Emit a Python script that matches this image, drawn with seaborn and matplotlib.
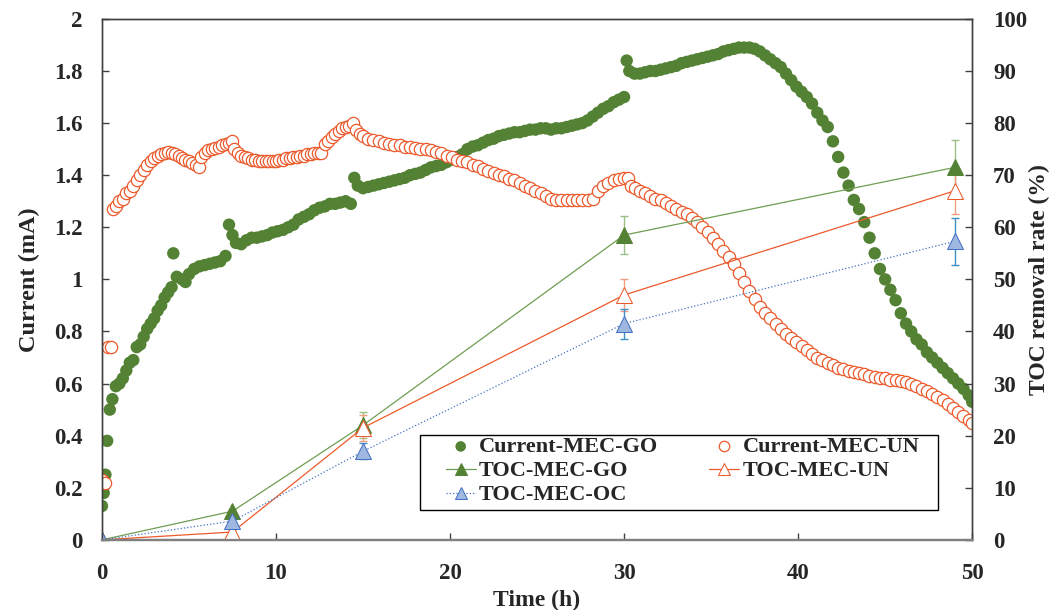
import matplotlib
matplotlib.use("Agg")
import matplotlib.pyplot as plt
from matplotlib.patches import Rectangle
import seaborn as sns
import pandas as pd

# Current of MEC-GO (mA) vs time (h)
go_time = [0.0, 0.1, 0.2, 0.3, 0.45, 0.6, 0.8, 1.0, 1.2, 1.4, 1.6, 1.8, 2.0, 2.2, 2.4, 2.6, 2.8, 3.0,
           3.2, 3.4, 3.6, 3.8, 4.0, 4.1, 4.3, 4.6, 4.8, 5.0, 5.3, 5.6, 5.9, 6.2, 6.5, 6.8, 7.1, 7.3,
           7.5, 7.7, 8.0, 8.3, 8.6, 8.9, 9.2, 9.5, 9.8, 10.1, 10.4, 10.7, 11.0, 11.3, 11.6, 11.9,
           12.2, 12.5, 12.8, 13.1, 13.4, 13.7, 14.0, 14.3, 14.5, 14.7, 15.0, 15.3, 15.6, 15.9, 16.2,
           16.5, 16.8, 17.1, 17.4, 17.7, 18.0, 18.3, 18.6, 18.9, 19.2, 19.5, 19.8, 20.1, 20.4, 20.7,
           21.0, 21.3, 21.6, 21.9, 22.2, 22.5, 22.8, 23.1, 23.4, 23.7, 24.0, 24.3, 24.6, 24.9, 25.2,
           25.5, 25.8, 26.1, 26.4, 26.7, 27.0, 27.3, 27.6, 27.9, 28.2, 28.5, 28.8, 29.1, 29.4, 29.7,
           30.0, 30.15, 30.3, 30.6, 30.9, 31.2, 31.5, 31.8, 32.1, 32.4, 32.7, 33.0, 33.3, 33.6, 33.9,
           34.2, 34.5, 34.8, 35.1, 35.4, 35.7, 36.0, 36.3, 36.6, 36.9, 37.2, 37.5, 37.8, 38.1, 38.4,
           38.7, 39.0, 39.3, 39.6, 39.9, 40.2, 40.5, 40.8, 41.1, 41.4, 41.7, 42.0, 42.3, 42.6, 42.9,
           43.2, 43.5, 43.8, 44.1, 44.4, 44.7, 45.0, 45.3, 45.6, 45.9, 46.2, 46.5, 46.8, 47.1, 47.4,
           47.7, 48.0, 48.3, 48.6, 48.9, 49.2, 49.5, 49.8, 50.0]
go_current = [0.13, 0.18, 0.25, 0.38, 0.50, 0.54, 0.59, 0.60, 0.62, 0.65, 0.68, 0.69, 0.74, 0.75, 0.78,
              0.81, 0.83, 0.85, 0.88, 0.90, 0.93, 0.95, 0.97, 1.10, 1.01, 1.00, 0.99, 1.02, 1.04, 1.05,
              1.055, 1.06, 1.065, 1.07, 1.09, 1.21, 1.17, 1.14, 1.135, 1.15, 1.16, 1.16, 1.165, 1.17,
              1.18, 1.185, 1.19, 1.20, 1.21, 1.23, 1.24, 1.25, 1.265, 1.275, 1.28, 1.29, 1.29, 1.295,
              1.30, 1.29, 1.39, 1.36, 1.35, 1.355, 1.36, 1.365, 1.37, 1.375, 1.38, 1.385, 1.39, 1.40,
              1.405, 1.41, 1.42, 1.43, 1.435, 1.44, 1.45, 1.46, 1.47, 1.48, 1.50, 1.51, 1.515, 1.525,
              1.535, 1.54, 1.55, 1.555, 1.56, 1.565, 1.565, 1.57, 1.575, 1.575, 1.58, 1.58, 1.575, 1.58,
              1.58, 1.585, 1.59, 1.595, 1.60, 1.61, 1.625, 1.64, 1.655, 1.665, 1.68, 1.69, 1.70, 1.84,
              1.80, 1.79, 1.79, 1.795, 1.80, 1.80, 1.805, 1.81, 1.815, 1.82, 1.83, 1.835, 1.84, 1.845,
              1.85, 1.855, 1.86, 1.865, 1.875, 1.88, 1.885, 1.89, 1.89, 1.89, 1.885, 1.875, 1.86, 1.845,
              1.83, 1.815, 1.79, 1.765, 1.74, 1.72, 1.70, 1.675, 1.64, 1.61, 1.585, 1.53, 1.47, 1.41,
              1.36, 1.305, 1.27, 1.22, 1.16, 1.10, 1.04, 1.00, 0.96, 0.92, 0.87, 0.83, 0.80, 0.77, 0.75,
              0.72, 0.70, 0.68, 0.66, 0.64, 0.62, 0.60, 0.58, 0.555, 0.53]

# Current of MEC-UN (mA) vs time (h)
un_time = [0.0, 0.15, 0.35, 0.5, 0.65, 0.8, 1.0, 1.2, 1.4, 1.6, 1.8, 2.0, 2.2, 2.4, 2.6, 2.8, 3.0, 3.2,
           3.4, 3.6, 3.8, 4.0, 4.2, 4.4, 4.6, 4.8, 5.0, 5.2, 5.4, 5.55, 5.7, 5.9, 6.1, 6.3, 6.5, 6.7,
           6.9, 7.1, 7.3, 7.45, 7.6, 7.8, 8.0, 8.2, 8.4, 8.6, 8.8, 9.0, 9.2, 9.4, 9.6, 9.8, 10.0, 10.2,
           10.4, 10.6, 10.8, 11.0, 11.2, 11.4, 11.6, 11.8, 12.0, 12.2, 12.4, 12.6, 12.8, 13.0, 13.2,
           13.4, 13.6, 13.8, 14.0, 14.2, 14.4, 14.6, 14.8, 15.0, 15.3, 15.6, 15.9, 16.2, 16.5, 16.8,
           17.1, 17.4, 17.7, 18.0, 18.3, 18.6, 18.9, 19.2, 19.5, 19.8, 20.1, 20.4, 20.7, 21.0, 21.3,
           21.6, 21.9, 22.2, 22.5, 22.8, 23.1, 23.4, 23.7, 24.0, 24.3, 24.6, 24.9, 25.2, 25.5, 25.8,
           26.1, 26.4, 26.7, 27.0, 27.3, 27.6, 27.9, 28.2, 28.5, 28.8, 29.1, 29.4, 29.7, 30.0, 30.2,
           30.4, 30.6, 30.9, 31.2, 31.5, 31.8, 32.1, 32.4, 32.7, 33.0, 33.3, 33.6, 33.9, 34.2, 34.5,
           34.8, 35.1, 35.4, 35.7, 36.0, 36.3, 36.6, 36.9, 37.2, 37.5, 37.8, 38.1, 38.4, 38.7, 39.0,
           39.3, 39.6, 39.9, 40.2, 40.5, 40.8, 41.1, 41.4, 41.7, 42.0, 42.3, 42.6, 42.9, 43.2, 43.5,
           43.8, 44.1, 44.4, 44.7, 45.0, 45.3, 45.6, 45.9, 46.2, 46.5, 46.8, 47.1, 47.4, 47.7, 48.0,
           48.3, 48.6, 48.9, 49.2, 49.5, 49.8, 50.0]
un_current = [0.23, 0.22, 0.74, 0.74, 1.27, 1.28, 1.30, 1.31, 1.33, 1.34, 1.36, 1.38, 1.40, 1.42, 1.44,
              1.455, 1.465, 1.475, 1.48, 1.485, 1.49, 1.485, 1.48, 1.475, 1.465, 1.46, 1.455, 1.445,
              1.44, 1.43, 1.47, 1.485, 1.495, 1.50, 1.505, 1.51, 1.515, 1.52, 1.525, 1.53, 1.50, 1.485,
              1.475, 1.47, 1.465, 1.46, 1.46, 1.455, 1.455, 1.455, 1.455, 1.455, 1.455, 1.46, 1.46,
              1.465, 1.465, 1.47, 1.47, 1.475, 1.475, 1.48, 1.48, 1.485, 1.485, 1.485, 1.52, 1.53,
              1.545, 1.56, 1.57, 1.58, 1.585, 1.59, 1.60, 1.575, 1.56, 1.55, 1.54, 1.535, 1.53, 1.525,
              1.52, 1.515, 1.515, 1.51, 1.51, 1.505, 1.50, 1.50, 1.495, 1.49, 1.485, 1.475, 1.47, 1.46,
              1.455, 1.45, 1.44, 1.435, 1.425, 1.415, 1.41, 1.40, 1.395, 1.385, 1.38, 1.37, 1.36, 1.35,
              1.34, 1.33, 1.32, 1.31, 1.305, 1.305, 1.305, 1.305, 1.305, 1.305, 1.305, 1.31, 1.34,
              1.36, 1.37, 1.38, 1.385, 1.39, 1.39, 1.36, 1.35, 1.34, 1.33, 1.32, 1.31, 1.305, 1.295,
              1.28, 1.27, 1.26, 1.25, 1.235, 1.22, 1.20, 1.18, 1.16, 1.135, 1.11, 1.085, 1.06, 1.025,
              0.99, 0.955, 0.925, 0.895, 0.87, 0.85, 0.83, 0.81, 0.79, 0.775, 0.76, 0.745, 0.73, 0.715,
              0.70, 0.69, 0.68, 0.67, 0.66, 0.655, 0.65, 0.645, 0.64, 0.635, 0.63, 0.625, 0.62, 0.62,
              0.615, 0.615, 0.61, 0.605, 0.60, 0.59, 0.58, 0.57, 0.56, 0.55, 0.535, 0.52, 0.505, 0.49,
              0.475, 0.46, 0.45]

# TOC removal rate (%)
toc_time = [0, 7.5, 15, 30, 49]
toc_go = [0, 5.5, 22, 58.5, 71.5]
toc_go_err = [0, 0.5, 2.5, 3.6, 5.3]
toc_un = [0, 1.5, 21.5, 47, 67]
toc_un_err = [0, 0.3, 2.5, 3.0, 4.4]
toc_oc = [0, 3.6, 17, 41.5, 57.3]
toc_oc_err = [0, 0.4, 1.5, 2.9, 4.5]

df_go = pd.DataFrame({"time": go_time, "current": go_current})
df_un = pd.DataFrame({"time": un_time, "current": un_current})
df_toc = pd.DataFrame({"time": toc_time, "GO": toc_go, "UN": toc_un, "OC": toc_oc})

sns.set_style("ticks")
plt.rcParams["font.family"] = ["Liberation Serif", "DejaVu Serif"]
plt.rcParams["font.weight"] = "bold"
plt.rcParams["axes.labelweight"] = "bold"

green = "#548235"
orange = "#EC5A2C"
blue = "#4472C4"

fig = plt.figure(figsize=(10.51, 6.10), dpi=100)
ax = fig.add_axes([0.097, 0.115, 0.828, 0.854])
ax2 = ax.twinx()

# Current curves
sns.scatterplot(data=df_go, x="time", y="current", ax=ax, color=green, s=80,
                edgecolor="none", label="Current-MEC-GO", legend=False)
sns.scatterplot(data=df_un, x="time", y="current", ax=ax, facecolor="white", s=78,
                edgecolor=orange, linewidth=0.9, label="Current-MEC-UN", legend=False)

# TOC removal lines
ax2.errorbar(toc_time, toc_go, yerr=toc_go_err, fmt="none", ecolor="#9DBF86", capsize=3, lw=1)
ax2.errorbar(toc_time, toc_un, yerr=toc_un_err, fmt="none", ecolor="#F0A080", capsize=3, lw=1)
ax2.errorbar(toc_time, toc_oc, yerr=toc_oc_err, fmt="none", ecolor="#3F8FC8", capsize=3, lw=1)
sns.lineplot(data=df_toc, x="time", y="GO", ax=ax2, color="#6E9E52", lw=0.9, marker="^",
             markersize=11, markerfacecolor=green, markeredgecolor=green, label="TOC-MEC-GO")
sns.lineplot(data=df_toc, x="time", y="UN", ax=ax2, color=orange, lw=0.9, marker="^",
             markersize=11, markerfacecolor="white", markeredgecolor=orange, label="TOC-MEC-UN")
sns.lineplot(data=df_toc, x="time", y="OC", ax=ax2, color=blue, lw=0.9, ls=":", marker="^",
             markersize=11, markerfacecolor="#9FB8E0", markeredgecolor=blue, label="TOC-MEC-OC")

ax.set_xlim(0, 50)
ax.set_ylim(0, 2)
ax2.set_ylim(0, 100)
ax.set_xticks([0, 10, 20, 30, 40, 50])
ax.set_yticks([0, 0.2, 0.4, 0.6, 0.8, 1, 1.2, 1.4, 1.6, 1.8, 2])
ax.set_yticklabels(["0", "0.2", "0.4", "0.6", "0.8", "1", "1.2", "1.4", "1.6", "1.8", "2"])
ax2.set_yticks(range(0, 101, 10))

ax.set_xlabel("Time (h)", fontsize=17, labelpad=4)
ax.set_ylabel("Current (mA)", fontsize=17.5, labelpad=10)
ax2.set_ylabel("TOC removal rate (%)", fontsize=17)
ax2.yaxis.set_label_coords(1.0655, 0.5)

for a in (ax, ax2):
    a.tick_params(direction="in", length=5, width=1, labelsize=16.5, color="#404040")
    for sp in a.spines.values():
        sp.set_color("#404040")
        sp.set_linewidth(1)
    a.spines["bottom"].set_color("#808080")
    a.spines["bottom"].set_linewidth(1.6)
ax.tick_params(axis="y", pad=14)
ax2.tick_params(axis="y", pad=15)
ax.tick_params(axis="x", pad=17)

if ax2.get_legend():
    ax2.get_legend().remove()
h1, l1 = ax.get_legend_handles_labels()
h2, l2 = ax2.get_legend_handles_labels()
hd = dict(zip(l1 + l2, h1 + h2))
order = ["Current-MEC-GO", "TOC-MEC-GO", "TOC-MEC-OC", "Current-MEC-UN", "TOC-MEC-UN"]

# legend frame box, then the entries on top of it
ax2.add_patch(Rectangle((0.3655, 0.0576), 0.5955, 0.144, transform=ax2.transAxes,
                        facecolor="white", edgecolor="black", lw=1, zorder=4.5))
leg = ax2.legend([hd[k] for k in order], order, ncol=2, loc="upper left",
                 bbox_to_anchor=(0.395, 0.198), frameon=False, fontsize=16,
                 handlelength=1.35, handletextpad=0.15, borderpad=0, labelspacing=0.16,
                 borderaxespad=0, columnspacing=2.3, markerscale=0.85)
leg.set_zorder(5)

fig.savefig("out.png", dpi=100)
